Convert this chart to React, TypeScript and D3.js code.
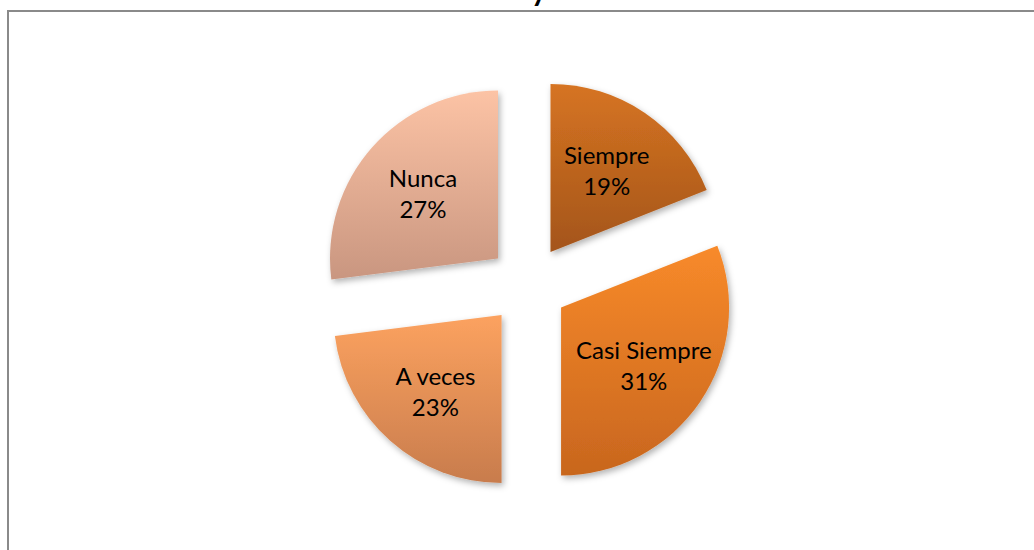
import React from 'react'
import * as d3 from 'd3'

const categories = ['Siempre', 'Casi Siempre', 'A veces', 'Nunca']
const values = [19, 31, 23, 27]
const topColors = ['#d67422', '#f88a2a', '#fca25f', '#fcc3a5']
const bottomColors = ['#a4551a', '#c8661e', '#c87c4d', '#c99680']

const width = 1034
const height = 550
const cx = 528
const cy = 285
const radius = 168
const explode = 40
const labelRadius = 100
const font = "Lato, 'Open Sans', sans-serif"

export default function App() {
  const pie = d3.pie<number>().sort(null).value(d => d)
  const slices = pie(values)
  const arc = d3.arc<d3.PieArcDatum<number>>().innerRadius(0).outerRadius(radius)
  const total = d3.sum(values)

  return (
    <>
      <style>{`body{margin:0;overflow:hidden}`}</style>
      <svg width={width} height={height} style={{display: 'block', background: '#fff'}}>
        <defs>
          {slices.map((s, i) => (
            <linearGradient key={i} id={`grad${i}`} x1="0" y1="0" x2="0" y2="1">
              <stop offset="0%" stopColor={topColors[i]} />
              <stop offset="100%" stopColor={bottomColors[i]} />
            </linearGradient>
          ))}
          <filter id="shadow" x="-20%" y="-20%" width="140%" height="140%">
            <feDropShadow dx="2" dy="3" stdDeviation="3" floodColor="#000" floodOpacity="0.3" />
          </filter>
        </defs>

        {/* chart frame, runs off the page on the right and bottom */}
        <rect x={8} y={11} width={width + 20} height={height + 20}
          fill="none" stroke="#8a8a8a" strokeWidth={2} />

        {/* bit of the title that peeks in from above */}
        <text x={539} y={1} textAnchor="middle" fontFamily={font}
          fontWeight="bold" fontSize={30} fill="#000">y</text>

        {slices.map((s, i) => {
          const mid = (s.startAngle + s.endAngle) / 2
          const ox = cx + explode * Math.sin(mid)
          const oy = cy - explode * Math.cos(mid)
          const lx = ox + labelRadius * Math.sin(mid)
          const ly = oy - labelRadius * Math.cos(mid)
          const pct = Math.round((values[i] / total) * 100)
          return (
            <g key={categories[i]}>
              <path d={arc(s) || ''} transform={`translate(${ox},${oy})`}
                fill={`url(#grad${i})`} filter="url(#shadow)" />
              <text x={lx} textAnchor="middle" fontFamily={font}
                fontSize={24} fill="#000">
                <tspan x={lx} y={ly - 5}>{categories[i]}</tspan>
                <tspan x={lx} y={ly + 26}>{pct}%</tspan>
              </text>
            </g>
          )
        })}
      </svg>
    </>
  )
}
